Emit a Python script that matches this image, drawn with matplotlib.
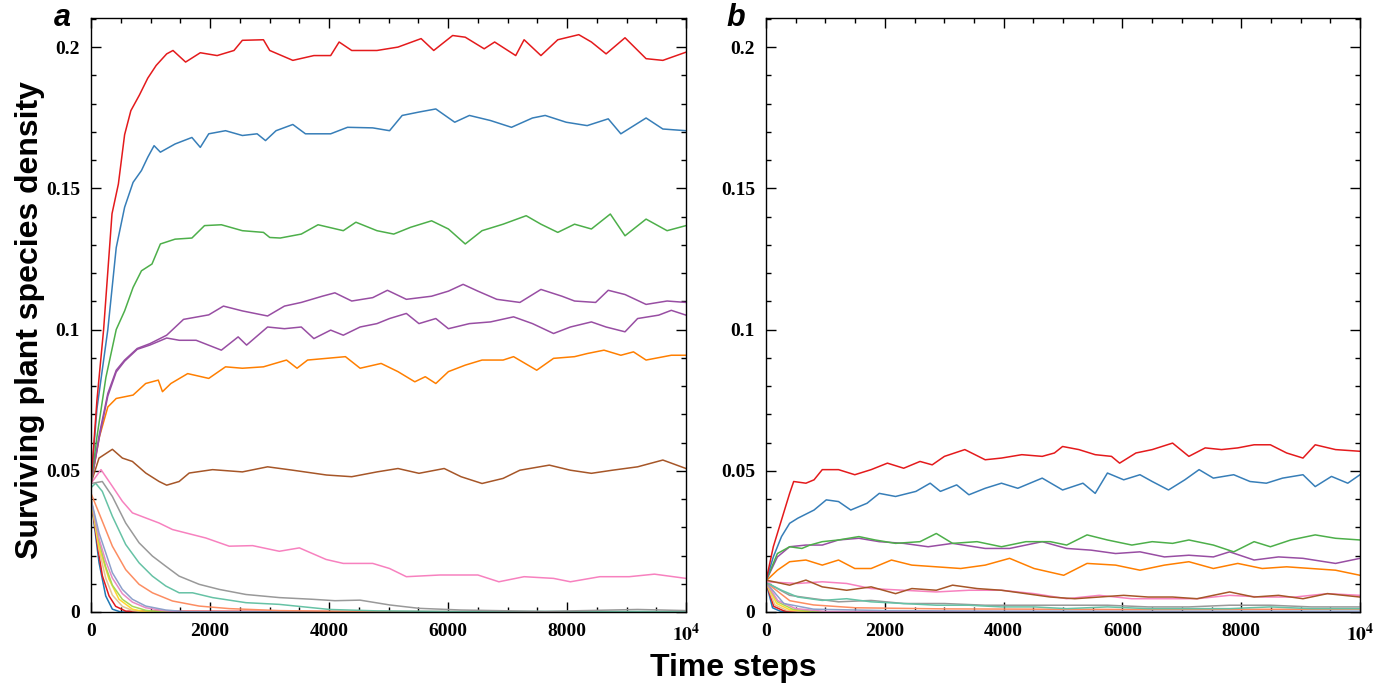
import matplotlib.pyplot as plt
from matplotlib.ticker import MultipleLocator, FixedLocator, FixedFormatter

plt.rcParams["mathtext.fontset"] = "stix"

# ---- panel a ----
a_red_t = [0, 100, 212, 353, 460, 565, 670, 813, 954, 1095, 1272, 1378, 1590, 1837, 2120, 2403, 2544,
           2898, 3004, 3392, 3746, 4028, 4170, 4382, 4806, 5159, 5548, 5760, 6078, 6290, 6608, 6784,
           7138, 7279, 7562, 7845, 8198, 8410, 8657, 8975, 9329, 9611, 10000]
a_red_y = [0.0455, 0.075, 0.100, 0.141, 0.1515, 0.169, 0.1775, 0.183, 0.189, 0.1935, 0.1976, 0.1988,
           0.1947, 0.198, 0.197, 0.1988, 0.2024, 0.2026, 0.1988, 0.1953, 0.197, 0.197, 0.2018, 0.1988,
           0.1988, 0.200, 0.203, 0.1988, 0.2041, 0.2035, 0.1994, 0.2018, 0.197, 0.2026, 0.197, 0.2026,
           0.2044, 0.2018, 0.1976, 0.2033, 0.1959, 0.1953, 0.1982]

a_blue_t = [0, 100, 283, 424, 565, 707, 848, 954, 1060, 1166, 1413, 1696, 1837, 1979, 2261, 2544, 2792,
            2933, 3110, 3392, 3604, 4028, 4311, 4735, 5018, 5230, 5512, 5795, 6113, 6360, 6714, 7067,
            7420, 7633, 7986, 8339, 8693, 8905, 9329, 9611, 10000]
a_blue_y = [0.0455, 0.072, 0.100, 0.129, 0.1433, 0.1521, 0.1563, 0.161, 0.1651, 0.1628, 0.1657, 0.168,
            0.1645, 0.1693, 0.1704, 0.1687, 0.1693, 0.1669, 0.1704, 0.1726, 0.1693, 0.1693, 0.1716,
            0.1714, 0.1704, 0.1758, 0.177, 0.1781, 0.1734, 0.1758, 0.174, 0.1716, 0.1749, 0.1758,
            0.1734, 0.1722, 0.1746, 0.1693, 0.1749, 0.171, 0.1704]

a_green_t = [0, 100, 250, 424, 565, 707, 848, 1025, 1166, 1413, 1696, 1908, 2191, 2544, 2898, 3004, 3180,
             3534, 3816, 4240, 4452, 4806, 5088, 5371, 5724, 6007, 6290, 6572, 6926, 7314, 7562, 7845,
             8127, 8410, 8728, 8975, 9329, 9682, 10000]
a_green_y = [0.0455, 0.062, 0.083, 0.100, 0.1066, 0.1149, 0.1208, 0.1232, 0.1303, 0.132, 0.1324, 0.1368,
             0.1371, 0.135, 0.1344, 0.1326, 0.1324, 0.1338, 0.1371, 0.135, 0.138, 0.135, 0.1338, 0.1362,
             0.1385, 0.1356, 0.1303, 0.135, 0.1373, 0.1403, 0.1373, 0.1344, 0.1373, 0.1356, 0.1409,
             0.1332, 0.1391, 0.135, 0.1368]

a_purple1_t = [0, 141, 283, 424, 565, 777, 989, 1272, 1555, 1979, 2226, 2544, 2968, 3251, 3534, 3887,
               4099, 4382, 4735, 4982, 5300, 5724, 6007, 6254, 6502, 6820, 7208, 7562, 7915, 8127, 8481,
               8693, 8975, 9329, 9682, 10000]
a_purple1_y = [0.0455, 0.063, 0.0774, 0.0856, 0.0892, 0.0933, 0.095, 0.098, 0.1036, 0.1052, 0.1083,
               0.1066, 0.1048, 0.1083, 0.1096, 0.1118, 0.113, 0.1101, 0.1113, 0.1139, 0.1107, 0.1118,
               0.1136, 0.116, 0.1136, 0.1107, 0.1096, 0.1142, 0.1118, 0.1101, 0.1096, 0.1139, 0.1124,
               0.1089, 0.1101, 0.1096]

a_purple2_t = [0, 141, 283, 424, 565, 777, 989, 1272, 1484, 1767, 2191, 2473, 2615, 2968, 3251, 3534,
               3746, 4028, 4240, 4523, 4806, 5018, 5300, 5512, 5795, 6007, 6360, 6714, 7102, 7420, 7774,
               8057, 8410, 8657, 8975, 9187, 9541, 9753, 10000]
a_purple2_y = [0.0455, 0.062, 0.0765, 0.085, 0.0888, 0.093, 0.0945, 0.097, 0.0962, 0.0962, 0.0927,
               0.0974, 0.0945, 0.1009, 0.1003, 0.1009, 0.0968, 0.0998, 0.098, 0.1009, 0.1021, 0.1039,
               0.1057, 0.1021, 0.1039, 0.1003, 0.1021, 0.1027, 0.1045, 0.1021, 0.0986, 0.1009, 0.1027,
               0.1009, 0.0992, 0.1039, 0.1051, 0.1068, 0.1051]

a_orange_t = [0, 141, 283, 424, 707, 919, 1131, 1201, 1343, 1625, 1979, 2261, 2544, 2898, 3286, 3463,
              3640, 3958, 4276, 4523, 4876, 5159, 5442, 5618, 5795, 6007, 6290, 6572, 6926, 7102, 7491,
              7774, 8127, 8339, 8622, 8905, 9117, 9329, 9753, 10000]
a_orange_y = [0.0455, 0.062, 0.0726, 0.0756, 0.0768, 0.0809, 0.0821, 0.078, 0.0809, 0.0844, 0.0827,
              0.0868, 0.0863, 0.0868, 0.0892, 0.0863, 0.0892, 0.0898, 0.0904, 0.0863, 0.088, 0.0851,
              0.0815, 0.0833, 0.0809, 0.0851, 0.0874, 0.0892, 0.0892, 0.0904, 0.0856, 0.0898, 0.0904,
              0.0915, 0.0927, 0.0909, 0.0921, 0.0892, 0.0909, 0.0909]

a_brown_t = [0, 135, 359, 527, 696, 920, 1145, 1272, 1481, 1650, 2043, 2544, 2968, 3392, 3958, 4382,
             4806, 5159, 5512, 5936, 6219, 6572, 6926, 7208, 7703, 8057, 8410, 8763, 9187, 9611, 10000]
a_brown_y = [0.0456, 0.0545, 0.0576, 0.0545, 0.0533, 0.0492, 0.0462, 0.0449, 0.0462, 0.0492, 0.0504,
             0.0496, 0.0514, 0.0502, 0.0485, 0.0479, 0.0496, 0.0508, 0.0491, 0.0508, 0.0479, 0.0455,
             0.0473, 0.0502, 0.052, 0.0502, 0.0491, 0.0502, 0.0514, 0.0538, 0.0508]

a_pink_t = [0, 168, 359, 527, 696, 920, 1145, 1369, 1593, 1930, 2323, 2716, 3165, 3502, 3951, 4240,
            4735, 5018, 5300, 5866, 6502, 6855, 7279, 7774, 8057, 8552, 9046, 9470, 10000]
a_pink_y = [0.0455, 0.0504, 0.0445, 0.0392, 0.0351, 0.0333, 0.0315, 0.0292, 0.028, 0.0262, 0.0233,
            0.0235, 0.0215, 0.0227, 0.0186, 0.0172, 0.0172, 0.0154, 0.0125, 0.0131, 0.0131, 0.0107,
            0.0125, 0.0119, 0.0107, 0.0125, 0.0125, 0.0134, 0.0119]

a_gray_t = [0, 190, 359, 583, 808, 1032, 1257, 1481, 1818, 2155, 2604, 3165, 3726, 4099, 4523, 5018,
            5512, 6219, 7633, 9187, 10000]
a_gray_y = [0.0455, 0.0462, 0.0409, 0.0315, 0.0245, 0.0198, 0.0162, 0.0127, 0.0098, 0.008, 0.0062,
            0.0051, 0.0045, 0.0040, 0.0042, 0.0025, 0.0013, 0.0007, 0.0002, 0.0009, 0.0005]

a_teal_t = [0, 78, 190, 359, 583, 808, 1032, 1257, 1481, 1706, 2043, 2604, 3165, 3726, 4007, 4806, 6000, 10000]
a_teal_y = [0.044, 0.0456, 0.0427, 0.0339, 0.0239, 0.0174, 0.0127, 0.0092, 0.0068, 0.0068, 0.0051,
            0.0033, 0.0027, 0.0015, 0.0009, 0.0004, 0.0002, 0.0002]

a_coral_t = [0, 135, 359, 583, 808, 1032, 1369, 1818, 2323, 3165, 4500, 10000]
a_coral_y = [0.042, 0.035, 0.0233, 0.015, 0.0098, 0.0068, 0.0039, 0.0021, 0.0012, 0.0005, 0.0001, 0.0]

a_peri_t = [0, 135, 247, 359, 527, 696, 920, 1257, 1600, 10000]
a_peri_y = [0.040, 0.028, 0.021, 0.0139, 0.008, 0.0045, 0.0021, 0.0007, 0.0001, 0.0]
a_magenta_t = [0, 135, 247, 359, 527, 696, 920, 1257, 1600, 10000]
a_magenta_y = [0.040, 0.026, 0.018, 0.012, 0.0065, 0.0035, 0.0015, 0.0004, 0.0, 0.0]
a_lime_t = [0, 135, 247, 359, 527, 696, 920, 1200, 10000]
a_lime_y = [0.040, 0.025, 0.016, 0.0095, 0.0045, 0.002, 0.0006, 0.0, 0.0]
a_yellow_t = [0, 135, 303, 471, 696, 920, 10000]
a_yellow_y = [0.040, 0.023, 0.0116, 0.0045, 0.001, 0.0, 0.0]
a_tan_t = [0, 135, 247, 359, 527, 700, 900, 10000]
a_tan_y = [0.040, 0.022, 0.012, 0.006, 0.002, 0.0005, 0.0, 0.0]
a_red2_t = [0, 135, 191, 303, 415, 584, 10000]
a_red2_y = [0.040, 0.020, 0.0128, 0.0057, 0.002, 0.0003, 0.0]
a_navy_t = [0, 135, 247, 359, 500, 10000]
a_navy_y = [0.040, 0.0175, 0.0057, 0.001, 0.0, 0.0]

# ---- panel b ----
b_red_t = [0, 123, 261, 398, 466, 672, 809, 947, 1221, 1495, 1770, 2044, 2318, 2593, 2798, 3004, 3347,
           3690, 3964, 4307, 4650, 4856, 4993, 5267, 5542, 5816, 5953, 6228, 6502, 6845, 7119, 7394,
           7668, 7942, 8217, 8491, 8765, 9040, 9246, 9588, 10000]
b_red_y = [0.011, 0.0231, 0.0326, 0.042, 0.0462, 0.0456, 0.0468, 0.0504, 0.0504, 0.0486, 0.0504, 0.0527,
           0.0509, 0.0533, 0.0521, 0.0551, 0.0575, 0.0539, 0.0545, 0.0557, 0.0551, 0.0563, 0.0586,
           0.0575, 0.0557, 0.0551, 0.0527, 0.0563, 0.0575, 0.0598, 0.0551, 0.0581, 0.0575, 0.0581,
           0.0592, 0.0592, 0.0563, 0.0545, 0.0592, 0.0575, 0.0569]

b_blue_t = [0, 123, 261, 398, 535, 809, 1015, 1221, 1427, 1701, 1907, 2181, 2524, 2764, 2936, 3210, 3416,
            3690, 3964, 4239, 4650, 4993, 5336, 5542, 5748, 6022, 6296, 6502, 6776, 7051, 7291, 7531,
            7874, 8148, 8423, 8697, 9040, 9246, 9520, 9794, 10000]
b_blue_y = [0.011, 0.0195, 0.0267, 0.0314, 0.0332, 0.0361, 0.0397, 0.0391, 0.0361, 0.0385, 0.042,
            0.0409, 0.0427, 0.0456, 0.0427, 0.045, 0.0415, 0.0438, 0.0456, 0.0438, 0.0474, 0.0432,
            0.0456, 0.042, 0.0492, 0.0468, 0.0486, 0.0462, 0.0432, 0.0468, 0.0504, 0.0474, 0.0486,
            0.0462, 0.0456, 0.0474, 0.0486, 0.0444, 0.048, 0.0456, 0.0486]

b_green_t = [0, 192, 398, 604, 741, 947, 1221, 1564, 1838, 2181, 2593, 2867, 3141, 3553, 3964, 4376,
             4787, 5062, 5405, 5748, 6159, 6502, 6845, 7119, 7531, 7874, 8217, 8491, 8834, 9246, 9588, 10000]
b_green_y = [0.011, 0.0207, 0.0231, 0.0225, 0.0237, 0.0249, 0.0255, 0.0267, 0.0255, 0.0243, 0.0249,
             0.0278, 0.0243, 0.0249, 0.0231, 0.0249, 0.0249, 0.0237, 0.0273, 0.0255, 0.0237, 0.0249,
             0.0243, 0.0255, 0.0237, 0.0213, 0.0249, 0.0231, 0.0255, 0.0273, 0.0261, 0.0255]

b_purple_t = [0, 192, 398, 672, 947, 1221, 1564, 1907, 2318, 2730, 3141, 3690, 4101, 4650, 5062, 5473,
              5885, 6296, 6708, 7119, 7531, 7805, 8217, 8628, 9040, 9588, 10000]
b_purple_y = [0.011, 0.0195, 0.0231, 0.0237, 0.0237, 0.0255, 0.0261, 0.0249, 0.0243, 0.0231, 0.0243,
              0.0225, 0.0225, 0.0249, 0.0225, 0.0219, 0.0207, 0.0213, 0.0195, 0.0201, 0.0195, 0.0213,
              0.0184, 0.0195, 0.019, 0.0172, 0.019]

b_orange_t = [0, 192, 398, 672, 947, 1221, 1495, 1770, 2112, 2455, 2867, 3278, 3690, 4101, 4513, 5012,
              5405, 5885, 6296, 6708, 7119, 7531, 7942, 8354, 8765, 9177, 9588, 10000]
b_orange_y = [0.011, 0.0148, 0.0178, 0.0184, 0.0166, 0.0184, 0.0154, 0.0154, 0.0184, 0.0166, 0.016,
              0.0154, 0.0166, 0.019, 0.0154, 0.013, 0.0172, 0.0166, 0.0148, 0.0166, 0.0178, 0.0154,
              0.0172, 0.0154, 0.016, 0.0154, 0.0148, 0.013]

b_brown_t = [0, 398, 672, 947, 1358, 1770, 2181, 2455, 2867, 3141, 3553, 3964, 4376, 4787, 5199, 5610,
             6022, 6433, 6845, 7257, 7805, 8217, 8628, 9040, 9451, 10000]
b_brown_y = [0.0113, 0.0095, 0.0113, 0.0089, 0.0077, 0.0089, 0.0065, 0.0083, 0.0077, 0.0095, 0.0083,
             0.0077, 0.0065, 0.0053, 0.0047, 0.0053, 0.0059, 0.0053, 0.0053, 0.0047, 0.0071, 0.0053,
             0.0059, 0.0047, 0.0065, 0.0053]

b_pink_t = [0, 535, 947, 1358, 1770, 2318, 2867, 3416, 3964, 4513, 5062, 5610, 6159, 6708, 7257, 7805,
            8354, 8903, 9451, 10000]
b_pink_y = [0.0107, 0.0101, 0.0107, 0.0101, 0.0083, 0.0077, 0.0071, 0.0077, 0.0077, 0.0065, 0.0047,
            0.0059, 0.0047, 0.0047, 0.0047, 0.0059, 0.0053, 0.0053, 0.0065, 0.0059]

b_teal_t = [0, 261, 535, 947, 1358, 1770, 2318, 2867, 3416, 3964, 4513, 5062, 5748, 6433, 7119, 7805,
            8491, 9177, 10000]
b_teal_y = [0.0105, 0.0077, 0.0053, 0.0041, 0.0047, 0.0036, 0.003, 0.0024, 0.0024, 0.0018, 0.0018,
            0.0012, 0.0018, 0.0012, 0.0012, 0.0012, 0.0018, 0.0012, 0.0012]

b_gray_t = [0, 398, 809, 1221, 1770, 2318, 3004, 3690, 4376, 5062, 5748, 6433, 7119, 7805, 8491, 9177, 10000]
b_gray_y = [0.0105, 0.0059, 0.0047, 0.0036, 0.0041, 0.003, 0.003, 0.0024, 0.0024, 0.0024, 0.0024,
            0.0018, 0.0018, 0.0024, 0.0024, 0.0018, 0.0018]

b_coral_t = [0, 400, 800, 1500, 3000, 6000, 10000]
b_coral_y = [0.0105, 0.004, 0.0025, 0.0015, 0.0011, 0.0009, 0.001]
b_peri_t = [0, 300, 800, 2000, 4000, 10000]
b_peri_y = [0.0105, 0.003, 0.001, 0.0005, 0.0003, 0.0003]
b_magenta_t = [0, 200, 500, 1000, 10000]
b_magenta_y = [0.0105, 0.004, 0.0012, 0.0002, 0.0]
b_lime_t = [0, 200, 450, 900, 10000]
b_lime_y = [0.0105, 0.0035, 0.001, 0.0, 0.0]
b_yellow_t = [0, 180, 400, 800, 10000]
b_yellow_y = [0.0105, 0.003, 0.0008, 0.0, 0.0]
b_tan_t = [0, 150, 350, 700, 10000]
b_tan_y = [0.0105, 0.0025, 0.0006, 0.0, 0.0]
b_red2_t = [0, 130, 300, 600, 10000]
b_red2_y = [0.0105, 0.002, 0.0004, 0.0, 0.0]
b_navy_t = [0, 110, 250, 500, 10000]
b_navy_y = [0.0105, 0.0015, 0.0002, 0.0, 0.0]

x_ticks = [0, 2000, 4000, 6000, 8000, 10000]
x_labels = ["0", "2000", "4000", "6000", "8000", r"$\mathbf{10^{4}}$"]
y_ticks = [0, 0.05, 0.1, 0.15, 0.2]
y_labels = ["0", "0.05", "0.1", "0.15", "0.2"]

C = {"red": "#e41a1c", "blue": "#377eb8", "green": "#4daf4a", "purple": "#984ea3",
     "orange": "#ff7f00", "brown": "#a65628", "pink": "#f781bf", "gray": "#999999",
     "teal": "#66c2a5", "coral": "#fc8d62", "peri": "#8da0cb", "magenta": "#e78ac3",
     "lime": "#a6d854", "yellow": "#ffd92f", "tan": "#e5c494", "navy": "#1f78b4"}

series_a = [
    (a_navy_t, a_navy_y, C["navy"]), (a_red2_t, a_red2_y, C["red"]), (a_tan_t, a_tan_y, C["tan"]),
    (a_yellow_t, a_yellow_y, C["yellow"]), (a_lime_t, a_lime_y, C["lime"]),
    (a_magenta_t, a_magenta_y, C["magenta"]), (a_peri_t, a_peri_y, C["peri"]),
    (a_coral_t, a_coral_y, C["coral"]), (a_teal_t, a_teal_y, C["teal"]), (a_gray_t, a_gray_y, C["gray"]),
    (a_pink_t, a_pink_y, C["pink"]), (a_brown_t, a_brown_y, C["brown"]),
    (a_orange_t, a_orange_y, C["orange"]), (a_purple2_t, a_purple2_y, C["purple"]),
    (a_purple1_t, a_purple1_y, C["purple"]), (a_green_t, a_green_y, C["green"]),
    (a_blue_t, a_blue_y, C["blue"]), (a_red_t, a_red_y, C["red"]),
]
series_b = [
    (b_navy_t, b_navy_y, C["navy"]), (b_red2_t, b_red2_y, C["red"]), (b_tan_t, b_tan_y, C["tan"]),
    (b_yellow_t, b_yellow_y, C["yellow"]), (b_lime_t, b_lime_y, C["lime"]),
    (b_magenta_t, b_magenta_y, C["magenta"]), (b_peri_t, b_peri_y, C["peri"]),
    (b_coral_t, b_coral_y, C["coral"]), (b_gray_t, b_gray_y, C["gray"]), (b_teal_t, b_teal_y, C["teal"]),
    (b_pink_t, b_pink_y, C["pink"]), (b_brown_t, b_brown_y, C["brown"]),
    (b_orange_t, b_orange_y, C["orange"]), (b_purple_t, b_purple_y, C["purple"]),
    (b_green_t, b_green_y, C["green"]), (b_blue_t, b_blue_y, C["blue"]), (b_red_t, b_red_y, C["red"]),
]

fig = plt.figure(figsize=(13.89, 6.88), dpi=100)
ax_a = fig.add_axes([91 / 1389, 76 / 688, 595 / 1389, 594 / 688])
ax_b = fig.add_axes([766 / 1389, 76 / 688, 594 / 1389, 594 / 688])

tick_font = {"family": "Liberation Serif", "weight": "bold", "size": 14}

for ax, series, tag, tx in [(ax_a, series_a, "a", 62), (ax_b, series_b, "b", 736)]:
    for t, y, col in series:
        ax.plot(t, y, color=col, lw=1.1)
    ax.set_xlim(0, 10000)
    ax.set_ylim(0, 0.2103)
    ax.xaxis.set_major_locator(FixedLocator(x_ticks))
    ax.xaxis.set_major_formatter(FixedFormatter(x_labels))
    ax.yaxis.set_major_locator(FixedLocator(y_ticks))
    ax.yaxis.set_major_formatter(FixedFormatter(y_labels))
    ax.xaxis.set_minor_locator(MultipleLocator(500))
    ax.yaxis.set_minor_locator(MultipleLocator(0.01))
    ax.tick_params(which="both", direction="in", top=True, right=True, width=1.0)
    ax.tick_params(which="major", length=7, pad=8)
    ax.tick_params(which="minor", length=3.5)
    for lab in ax.get_xticklabels() + ax.get_yticklabels():
        lab.set_fontproperties(tick_font)
    for sp in ax.spines.values():
        sp.set_linewidth(1.0)
    fig.text(tx / 1389, 1 - 18 / 688, tag, fontsize=22, fontweight="bold", fontstyle="italic",
             family="Liberation Sans", ha="center", va="center")

fig.text(30 / 1389, 0.5 + 24 / 688, "Surviving plant species density", rotation=90,
         fontsize=23, fontweight="bold", family="Liberation Sans", ha="center", va="center")
fig.text(733 / 1389, 1 - 668 / 688, "Time steps", fontsize=23, fontweight="bold",
         family="Liberation Sans", ha="center", va="center")

fig.savefig("out.png", dpi=100)
